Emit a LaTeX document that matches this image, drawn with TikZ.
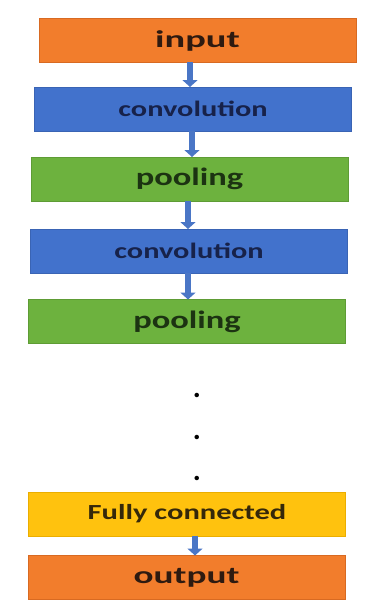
\documentclass[tikz,border=0pt]{standalone}
\usepackage{fontspec}
\usepackage{graphicx}
\setmainfont{Carlito}
\usetikzlibrary{arrows.meta}

\definecolor{layerorange}{HTML}{F27D2C}
\definecolor{layerorangeedge}{HTML}{D86A22}
\definecolor{layerblue}{HTML}{4272CC}
\definecolor{layerblueedge}{HTML}{3A64B4}
\definecolor{layergreen}{HTML}{6DB23E}
\definecolor{layergreenedge}{HTML}{5E9C35}
\definecolor{layeryellow}{HTML}{FFC20E}
\definecolor{layeryellowedge}{HTML}{EBAE00}
\definecolor{flowblue}{HTML}{4A76C6}
\definecolor{inkbrown}{HTML}{2E1A10}
\definecolor{inknavy}{HTML}{17224A}
\definecolor{inkgreen}{HTML}{1C3312}
\definecolor{inkgold}{HTML}{35280A}

% wide bold label: size, horizontal stretch, text
\newcommand{\widelabel}[3]{\scalebox{#2}[1]{\fontsize{#1}{#1}\selectfont\bfseries #3}}

\tikzset{
  layer/.style={draw, line width=0.8pt, minimum width=317pt, minimum height=44pt,
    inner sep=0pt, outer sep=0pt},
  inlayer/.style={layer, fill=layerorange, draw=layerorangeedge, text=inkbrown},
  convlayer/.style={layer, fill=layerblue, draw=layerblueedge, text=inknavy},
  poollayer/.style={layer, fill=layergreen, draw=layergreenedge, text=inkgreen},
  fclayer/.style={layer, fill=layeryellow, draw=layeryellowedge, text=inkgold},
  flow/.style={draw=flowblue, line width=6pt,
    -{Triangle[width=15pt,length=7pt]}, shorten <=-0.5pt, shorten >=0pt},
  ellipsisdot/.style={inner sep=0pt, anchor=base, font=\fontsize{30}{30}\selectfont\bfseries}
}

\begin{document}
\begin{tikzpicture}[x=1pt, y=-1pt]
  \useasboundingbox[fill=white] (0,0) rectangle (369,600);

  % layer stack
  \node[inlayer]   (in)    at (197.5,40.5) {\widelabel{24}{1.6}{input}};
  \node[convlayer] (conv1) at (193,109)    {\widelabel{22}{1.38}{convolution}};
  \node[poollayer] (pool1) at (189.5,179)  {\widelabel{25}{1.38}{pooling}};
  \node[convlayer] (conv2) at (189,251)    {\widelabel{22}{1.38}{convolution}};
  \node[poollayer] (pool2) at (187,321.5)  {\widelabel{25}{1.38}{pooling}};
  \node[fclayer]   (fc)    at (187,514)    {\widelabel{21.5}{1.42}{Fully connected}};
  \node[inlayer]   (out)   at (186.5,577.5){\widelabel{24}{1.55}{output}};

  % the skipped layers
  \node[ellipsisdot] (d1) at (197,397) {.};
  \node[ellipsisdot] (d2) at (197,439) {.};
  \node[ellipsisdot] (d3) at (197,480) {.};

  % data flow between layers (vertical arrows)
  \draw[flow] ([xshift=-7.5pt]in.south)    -- ([xshift=-3pt]conv1.north);
  \draw[flow] ([xshift=-1pt]conv1.south)   -- ([xshift=2.5pt]pool1.north);
  \draw[flow] ([xshift=-1.5pt]pool1.south) -- ([xshift=-1pt]conv2.north);
  \draw[flow] ([xshift=-1pt]conv2.south)   -- ([xshift=1pt]pool2.north);
  \draw[flow] ([xshift=8pt]fc.south)       -- ([xshift=8.5pt]out.north);
\end{tikzpicture}
\end{document}
